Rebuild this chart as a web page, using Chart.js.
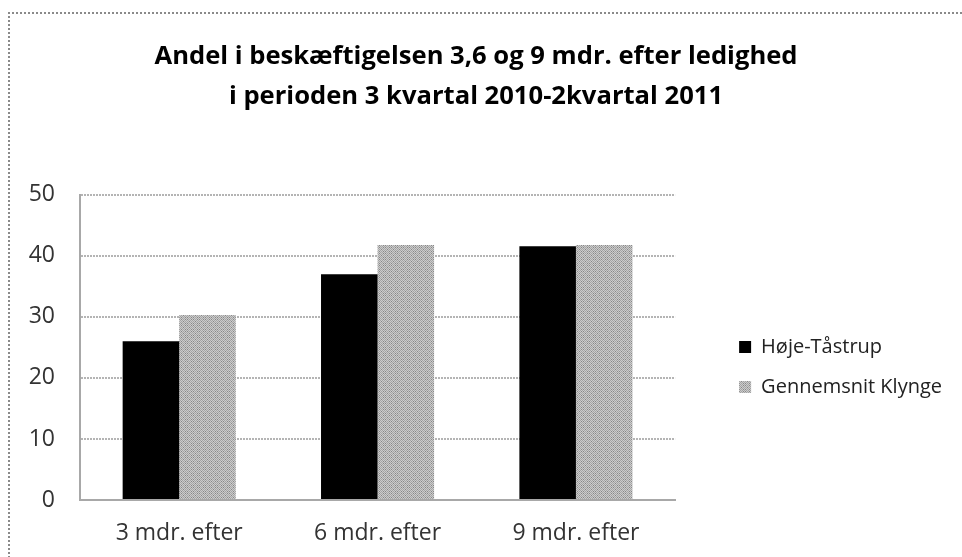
<!DOCTYPE html>
<html>
<head>
<meta charset="utf-8">
<script src="https://cdn.jsdelivr.net/npm/chart.js@4"></script>
<style>
  html, body { margin: 0; padding: 0; background: #fff; overflow: hidden; }
  #frame {
    position: absolute; left: 8px; top: 12px; width: 1000px; height: 1000px;
    border-left: 2px dotted #8a8a8a; border-top: 2px dotted #8a8a8a;
  }
  #wrap { position: absolute; left: 0; top: 0; width: 962px; height: 557px; }
</style>
</head>
<body>
<div id="frame"></div>
<div id="wrap"><canvas id="chart" width="962" height="557"></canvas></div>
<script>
const titleLines = [
  "Andel i beskæftigelsen 3,6 og 9 mdr. efter ledighed",
  "i perioden 3 kvartal 2010-2kvartal 2011",
];
const categories = ["3 mdr. efter", "6 mdr. efter", "9 mdr. efter"];
const hojeTaastrup = [26, 37, 41.6];
const klyngeSnit = [30.3, 41.8, 41.8];
const yTicks = [0, 10, 20, 30, 40, 50];

const FONT = "'Open Sans', 'Noto Sans', sans-serif";

// grey cross-hatch fill like the old excel pattern
function hatch() {
  const c = document.createElement("canvas");
  c.width = 6; c.height = 6;
  const g = c.getContext("2d");
  g.fillStyle = "#cccccc";
  g.fillRect(0, 0, 6, 6);
  g.fillStyle = "#a4a4a4";
  for (let y = 0; y < 6; y++) {
    for (let x = 0; x < 6; x++) {
      if ((x + y) % 2 === 0) g.fillRect(x, y, 1, 1);
    }
  }
  g.fillStyle = "#888888";
  g.fillRect(1, 1, 1, 1); g.fillRect(3, 3, 1, 1); g.fillRect(5, 1, 1, 1); g.fillRect(1, 5, 1, 1); g.fillRect(5, 5, 1, 1);
  return g.createPattern(c, "repeat");
}

const chart = new Chart(document.getElementById("chart"), {
  type: "bar",
  data: {
    labels: categories,
    datasets: [
      { label: "Høje-Tåstrup", data: hojeTaastrup, backgroundColor: "#000000", borderWidth: 0 },
      { label: "Gennemsnit Klynge", data: klyngeSnit, backgroundColor: hatch(), borderWidth: 0 },
    ],
  },
  options: {
    responsive: false,
    animation: false,
    layout: { padding: { left: 0, right: 10, top: 0, bottom: 0 } },
    datasets: { bar: { barPercentage: 1, categoryPercentage: 0.57 } },
    plugins: {
      title: {
        display: true,
        text: titleLines,
        color: "#000",
        font: { family: FONT, size: 25.6, weight: "bold", lineHeight: 1.56 },
        padding: { top: 37, bottom: 78 },
      },
      legend: {
        position: "right",
        // blank legend title only pushes the entries down beside the plot
        title: { display: true, text: " ", font: { size: 10 }, padding: { top: 165, bottom: 0 } },
        labels: {
          color: "#222",
          font: { family: FONT, size: 20 },
          boxWidth: 12,
          boxHeight: 12,
          padding: 20,
        },
      },
      tooltip: { enabled: false },
    },
    scales: {
      y: {
        min: 0,
        max: 50,
        afterBuildTicks: (axis) => { axis.ticks = yTicks.map((v) => ({ value: v })); },
        afterFit: (s) => { s.width = 80; },
        ticks: { color: "#333", font: { family: FONT, size: 23 }, padding: 25 },
        grid: { color: "#b4b4b4", lineWidth: 2, drawTicks: false },
        border: { color: "#a8a8a8", width: 2, dash: [2, 1] },
      },
      // hidden spacer between plot and legend
      gap: {
        position: "right",
        display: false,
        afterFit: (s) => { s.width = 44; },
      },
      x: {
        afterFit: (s) => { s.height = 57; },
        ticks: { color: "#333", font: { family: FONT, size: 23 }, padding: 20 },
        grid: { display: false, drawTicks: false },
        border: { color: "#a8a8a8", width: 2, dash: [2, 1] },
      },
    },
  },
});
</script>
</body>
</html>
